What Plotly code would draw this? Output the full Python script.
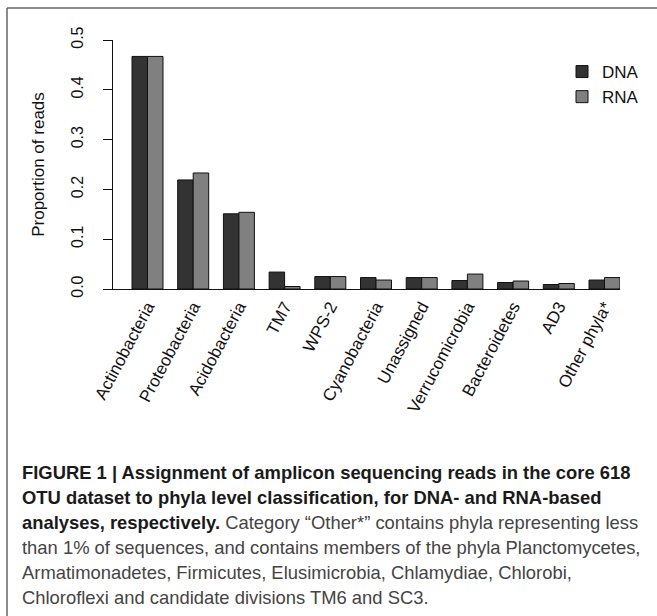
import plotly.graph_objects as go

categories = ["Actinobacteria", "Proteobacteria", "Acidobacteria", "TM7", "WPS-2",
              "Cyanobacteria", "Unassigned", "Verrucomicrobia", "Bacteroidetes",
              "AD3", "Other phyla*"]
dna = [0.467, 0.219, 0.151, 0.034, 0.025, 0.023, 0.023, 0.017, 0.013, 0.009, 0.018]
rna = [0.467, 0.233, 0.154, 0.005, 0.025, 0.018, 0.023, 0.030, 0.016, 0.011, 0.023]
ytick_vals = [0.0, 0.1, 0.2, 0.3, 0.4, 0.5]
ytick_text = ["0.0", "0.1", "0.2", "0.3", "0.4", "0.5"]

GRAY = "<span style='color:#444444'>"
caption_lines = [
    "<b>FIGURE 1 | Assignment of amplicon sequencing reads in the core 618</b>",
    "<b>OTU dataset to phyla level classification, for DNA- and RNA-based</b>",
    "<b>analyses, respectively.</b> " + GRAY + "Category \u201cOther*\u201d contains phyla representing less</span>",
    GRAY + "than 1% of sequences, and contains members of the phyla Planctomycetes,</span>",
    GRAY + "Armatimonadetes, Firmicutes, Elusimicrobia, Chlamydiae, Chlorobi,</span>",
    GRAY + "Chloroflexi and candidate divisions TM6 and SC3.</span>",
]

W, H = 657, 616
L, R_px = 113, 620      # plot area left/right in px
T, B_px = 40, 289       # plot area top/bottom in px
pw = R_px - L
ph = B_px - T

def px_x(x):
    return (x - L) / pw

def px_y(y):
    return (B_px - y) / ph

fig = go.Figure()
fig.add_trace(go.Bar(x=categories, y=dna, name="DNA",
                     marker=dict(color="#333333", line=dict(color="#111111", width=1))))
fig.add_trace(go.Bar(x=categories, y=rna, name="RNA",
                     marker=dict(color="#808080", line=dict(color="#111111", width=1))))

fig.update_layout(
    width=W, height=H,
    margin=dict(l=L, r=W - R_px, t=T, b=H - B_px, pad=0),
    paper_bgcolor="white", plot_bgcolor="white",
    barmode="group", bargap=0.322, bargroupgap=0,
    font=dict(family="Liberation Sans, Arial, sans-serif", color="#111111"),
    showlegend=True,
    legend=dict(x=px_x(562), y=px_y(54), xanchor="left", yanchor="top",
                bgcolor="rgba(0,0,0,0)", font=dict(size=17, color="#111111"),
                tracegroupgap=0),
)

fig.update_xaxes(
    range=[-0.755, 10.339], showline=True, linecolor="#111111", linewidth=1,
    ticks="", tickangle=-62, tickfont=dict(size=17, color="#111111"),
    showgrid=False, zeroline=False, fixedrange=True,
)
fig.update_yaxes(
    range=[0, 0.5], showline=True, linecolor="#111111", linewidth=1,
    ticks="outside", ticklen=9, tickcolor="#111111",
    tickvals=ytick_vals, ticktext=ytick_text, tickangle=-90,
    tickfont=dict(size=16, color="#111111"), ticklabelstandoff=14,
    showgrid=False, zeroline=False,
    title=dict(text="Proportion of reads", font=dict(size=17, color="#111111"), standoff=19),
)

# outer frame (top and left edges visible in the crop)
fig.add_shape(type="line", xref="paper", yref="paper",
              x0=px_x(7), x1=px_x(660), y0=px_y(8), y1=px_y(8),
              line=dict(color="#666666", width=1.5))
fig.add_shape(type="line", xref="paper", yref="paper",
              x0=px_x(7), x1=px_x(7), y0=px_y(8), y1=px_y(620),
              line=dict(color="#666666", width=1.5))

line_y = [472, 497, 522, 547, 572, 597]
for txt, yy in zip(caption_lines, line_y):
    fig.add_annotation(text=txt, xref="paper", yref="paper",
                       x=px_x(20), y=px_y(yy), xanchor="left", yanchor="middle",
                       showarrow=False, align="left",
                       font=dict(size=18.4, color="#1a1a1a",
                                 family="Liberation Sans, Arial, sans-serif"))

fig.write_html("out.html", config={"displayModeBar": False},
               post_script="document.body.style.margin='0';")
